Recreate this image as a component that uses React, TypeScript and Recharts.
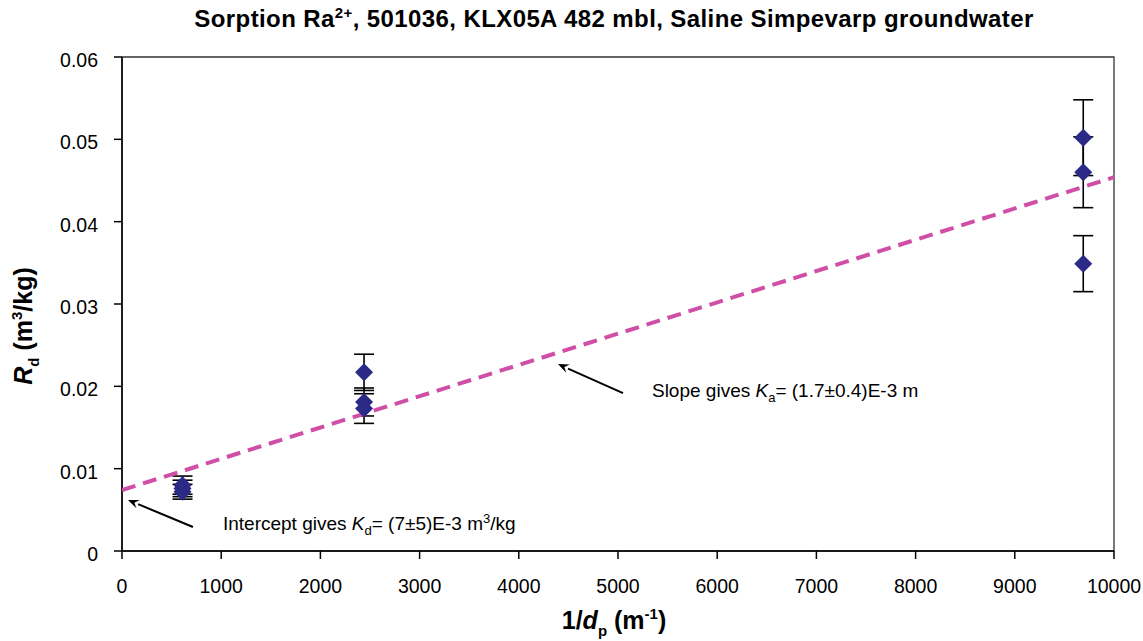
import React from 'react';
import {
  ScatterChart, Scatter, XAxis, YAxis, ErrorBar, ReferenceArea, ReferenceDot, Customized,
} from 'recharts';

// measured Rd values (m3/kg) vs 1/dp (1/m)
const xValues = [610, 610, 610, 2440, 2440, 2440, 9690, 9690, 9690];
const rdValues = [0.0080, 0.0076, 0.0072, 0.0217, 0.0181, 0.0173, 0.0502, 0.0460, 0.0349];
const rdErrors = [0.0011, 0.0010, 0.0009, 0.0022, 0.0017, 0.0018, 0.0046, 0.0043, 0.0034];

// fitted line endpoints
const trendX = [0, 10000];
const trendY = [0.0074, 0.0454];

const xTicks = [0, 1000, 2000, 3000, 4000, 5000, 6000, 7000, 8000, 9000, 10000];
const yTicks = [0, 0.01, 0.02, 0.03, 0.04, 0.05, 0.06];

// arrow tips of the two notes, in data units
const interceptTip = { x: 60, y: 0.0062 };
const slopeTip = { x: 4395, y: 0.0227 };

const points = xValues.map((x, i) => ({ x, y: rdValues[i], err: rdErrors[i] }));
const trend = trendX.map((x, i) => ({ x, y: trendY[i] }));

const FONT = '"Liberation Sans", Arial, sans-serif';
const W = 1143;
const H = 641;

const Diamond = (props: any) => {
  const { cx, cy } = props;
  if (cx == null || cy == null) return null;
  const r = 9;
  return (
    <polygon
      points={`${cx},${cy - r} ${cx + r},${cy} ${cx},${cy + r} ${cx - r},${cy}`}
      fill="#2B2A86"
    />
  );
};

const Arrow = ({ cx, cy, dx, dy }: { cx: number; cy: number; dx: number; dy: number }) => {
  const len = Math.sqrt(dx * dx + dy * dy);
  const ux = -dx / len;
  const uy = -dy / len;
  const hl = 11;
  const hw = 4.5;
  const bx = cx - ux * hl;
  const by = cy - uy * hl;
  return (
    <g>
      <line x1={cx + dx} y1={cy + dy} x2={bx} y2={by} stroke="#000" strokeWidth={2} />
      <polygon
        points={`${cx},${cy} ${bx - uy * hw},${by + ux * hw} ${cx - ux * (hl - 4)},${cy - uy * (hl - 4)} ${bx + uy * hw},${by - ux * hw}`}
        fill="#000"
      />
    </g>
  );
};

const InterceptNote = (props: any) => {
  const { cx, cy } = props;
  if (cx == null) return null;
  return (
    <g>
      <Arrow cx={cx} cy={cy} dx={65} dy={27} />
      <text x={cx + 95} y={cy + 30} fontSize={19} fontFamily={FONT} fill="#000">
        <tspan>Intercept gives </tspan>
        <tspan fontStyle="italic">K</tspan>
        <tspan fontSize={13} dy={5}>d</tspan>
        <tspan dy={-5}>= (7±5)E-3 m</tspan>
        <tspan fontSize={13} dy={-7}>3</tspan>
        <tspan dy={7}>/kg</tspan>
      </text>
    </g>
  );
};

const SlopeNote = (props: any) => {
  const { cx, cy } = props;
  if (cx == null) return null;
  return (
    <g>
      <Arrow cx={cx} cy={cy} dx={65} dy={29} />
      <text x={cx + 94} y={cy + 33} fontSize={19} fontFamily={FONT} fill="#000">
        <tspan>Slope gives </tspan>
        <tspan fontStyle="italic">K</tspan>
        <tspan fontSize={13} dy={5}>a</tspan>
        <tspan dy={-5}>= (1.7±0.4)E-3 m</tspan>
      </text>
    </g>
  );
};

const Labels = () => (
  <g fontFamily={FONT} fontWeight="bold" fill="#000">
    <text x={614} y={27} fontSize={24} letterSpacing={0.4} textAnchor="middle">
      <tspan>Sorption Ra</tspan>
      <tspan fontSize={15} dy={-9}>2+</tspan>
      <tspan dy={9}>, 501036, KLX05A 482 mbl, Saline Simpevarp groundwater</tspan>
    </text>
    <text x={614} y={629} fontSize={25} textAnchor="middle">
      <tspan>1/</tspan>
      <tspan fontStyle="italic">d</tspan>
      <tspan fontSize={15} dy={7}>p</tspan>
      <tspan dy={-7}> (m</tspan>
      <tspan fontSize={15} dy={-10}>-1</tspan>
      <tspan dy={10}>)</tspan>
    </text>
    <text x={32} y={326} fontSize={25} textAnchor="middle" transform="rotate(-90 32 326)">
      <tspan fontStyle="italic">R</tspan>
      <tspan fontSize={15} dy={7}>d</tspan>
      <tspan dy={-7}> (m</tspan>
      <tspan fontSize={15} dy={-10}>3</tspan>
      <tspan dy={10}>/kg)</tspan>
    </text>
  </g>
);

export default function App() {
  return (
    <div style={{ position: 'absolute', left: 0, top: 0, background: '#fff' }}>
      <ScatterChart width={W} height={H} margin={{ top: 57, right: 29, left: 0, bottom: 60 }}>
        <XAxis
          type="number"
          dataKey="x"
          domain={[0, 10000]}
          ticks={xTicks}
          interval={0}
          allowDataOverflow
          stroke="#000"
          strokeWidth={1.5}
          tickSize={8}
          tickMargin={20}
          height={30}
          tick={{ fontSize: 19.5, fontFamily: FONT, fill: '#000' }}
        />
        <YAxis
          type="number"
          dataKey="y"
          domain={[0, 0.06]}
          ticks={yTicks}
          interval={0}
          allowDataOverflow
          stroke="#000"
          strokeWidth={1.5}
          tickSize={8}
          tickMargin={16}
          width={122}
          tickFormatter={(v: number) => (v === 0 ? '0' : v.toFixed(2))}
          tick={{ fontSize: 19.5, fontFamily: FONT, fill: '#000', dy: 3 }}
        />
        <ReferenceArea x1={0} x2={10000} y1={0} y2={0.06} fill="none" stroke="#333" strokeWidth={1.3} />
        <Scatter
          data={trend}
          line={{ stroke: '#CF4FA6', strokeWidth: 4, strokeDasharray: '14 8' }}
          shape={() => null}
          isAnimationActive={false}
        />
        <Scatter data={points} shape={<Diamond />} isAnimationActive={false}>
          <ErrorBar dataKey="err" direction="y" width={10} stroke="#000" strokeWidth={1.6} />
        </Scatter>
        <ReferenceDot x={interceptTip.x} y={interceptTip.y} shape={<InterceptNote />} />
        <ReferenceDot x={slopeTip.x} y={slopeTip.y} shape={<SlopeNote />} />
        <Customized component={<Labels />} />
      </ScatterChart>
    </div>
  );
}
